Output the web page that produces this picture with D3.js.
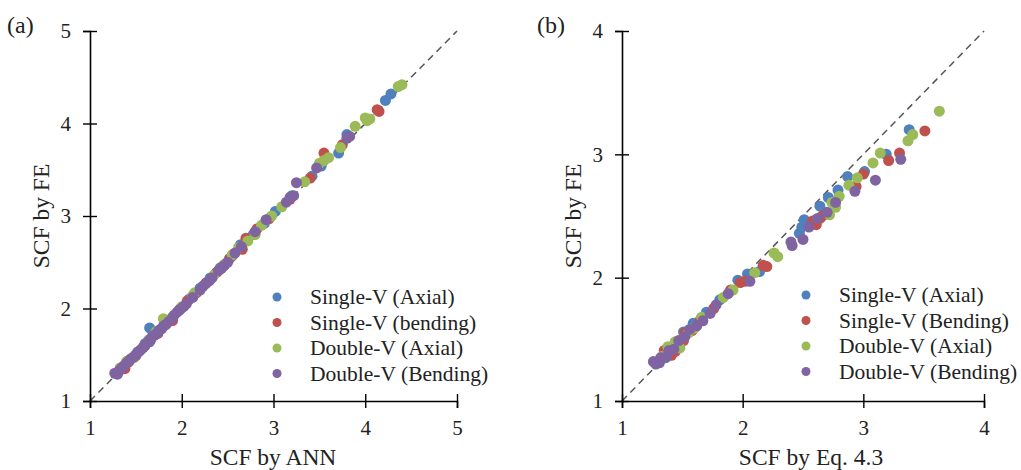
<!DOCTYPE html>
<html>
<head>
<meta charset="utf-8">
<script src="https://cdn.jsdelivr.net/npm/d3@7"></script>
<style>
  body { margin: 0; background: #fff; }
  svg { font-family: "Liberation Serif", "Times New Roman", serif; }
</style>
</head>
<body>
<svg id="chart" width="1021" height="470"></svg>
<script>
// series names and colours (Excel-like palette)
const seriesColors = ['#4f81bd', '#c0504d', '#9bbb59', '#8064a2'];
const legendA = ['Single-V (Axial)', 'Single-V (bending)', 'Double-V (Axial)', 'Double-V (Bending)'];
const legendB = ['Single-V (Axial)', 'Single-V (Bending)', 'Double-V (Axial)', 'Double-V (Bending)'];

// panel (a): [SCF by ANN, SCF by FE]
const annSingleAxial = [[1.36,1.35],[1.44,1.45],[1.52,1.53],[1.6,1.62],[1.65,1.64],[1.65,1.79],[1.68,1.7],
  [1.76,1.77],[1.86,1.87],[1.97,1.98],[2.08,2.1],[2.2,2.22],[2.31,2.33],[2.42,2.44],[2.55,2.57],[2.64,2.69],
  [2.78,2.8],[2.9,2.92],[3.02,3.05],[3.2,3.22],[3.42,3.43],[3.52,3.54],[3.71,3.68],[3.8,3.88],[4.22,4.25],[4.28,4.32]];
const annSingleBending = [[1.38,1.35],[1.42,1.42],[1.5,1.49],[1.58,1.58],[1.66,1.66],[1.74,1.73],[1.83,1.83],
  [1.9,1.87],[1.99,2.0],[2.06,2.08],[2.16,2.17],[2.27,2.28],[2.38,2.39],[2.46,2.47],[2.52,2.54],[2.66,2.64],
  [2.7,2.76],[2.82,2.86],[2.95,2.97],[3.18,3.18],[3.4,3.41],[3.55,3.68],[3.75,3.77],[4.13,4.15],[4.15,4.13]];
const annDoubleAxial = [[1.33,1.36],[1.4,1.43],[1.48,1.47],[1.56,1.56],[1.64,1.66],[1.72,1.75],[1.8,1.89],
  [1.82,1.82],[1.9,1.91],[2.0,2.02],[2.12,2.14],[2.14,2.17],[2.24,2.25],[2.35,2.36],[2.47,2.48],[2.55,2.58],
  [2.62,2.66],[2.72,2.73],[2.8,2.8],[2.87,2.9],[2.98,3.0],[3.09,3.1],[3.34,3.37],[3.5,3.57],[3.55,3.6],
  [3.6,3.63],[3.73,3.74],[3.89,3.97],[4.0,4.06],[4.02,4.03],[4.05,4.05],[4.36,4.4],[4.4,4.42]];
const annDoubleBending = [[1.27,1.3],[1.3,1.29],[1.32,1.33],[1.34,1.35],[1.36,1.37],[1.38,1.39],[1.4,1.41],
  [1.43,1.44],[1.45,1.46],[1.48,1.48],[1.5,1.5],[1.53,1.53],[1.55,1.55],[1.58,1.58],[1.6,1.6],[1.63,1.64],
  [1.66,1.67],[1.7,1.71],[1.73,1.73],[1.75,1.76],[1.78,1.78],[1.8,1.81],[1.83,1.83],[1.86,1.86],[1.9,1.9],
  [1.92,1.93],[1.95,1.96],[1.98,1.99],[2.02,2.02],[2.05,2.05],[2.12,2.12],[2.2,2.2],[2.23,2.24],[2.26,2.27],
  [2.3,2.3],[2.33,2.33],[2.4,2.41],[2.43,2.43],[2.46,2.46],[2.5,2.5],[2.58,2.6],[2.65,2.67],[2.8,2.83],
  [2.92,2.96],[3.14,3.15],[3.18,3.2],[3.22,3.22],[3.25,3.36],[3.47,3.52],[3.8,3.84],[3.83,3.86]];

// panel (b): [SCF by Eq. 4.3, SCF by FE]
const eqSingleAxial = [[1.36,1.35],[1.51,1.56],[1.59,1.63],[1.7,1.72],[1.81,1.82],[1.96,1.98],[2.04,2.03],
  [2.14,2.05],[2.47,2.36],[2.49,2.41],[2.51,2.47],[2.64,2.58],[2.71,2.65],[2.79,2.71],[2.87,2.82],[3.01,2.86],
  [3.19,3.0],[3.38,3.2]];
const eqSingleBending = [[1.35,1.41],[1.41,1.37],[1.44,1.4],[1.51,1.49],[1.52,1.55],[1.58,1.57],[1.65,1.66],
  [1.76,1.75],[1.9,1.9],[1.98,1.96],[2.02,1.97],[2.2,2.09],[2.17,2.1],[2.61,2.43],[2.64,2.48],[2.58,2.46],
  [2.66,2.5],[2.94,2.74],[3.0,2.84],[3.21,2.95],[3.3,3.01],[3.51,3.19]];
const eqDoubleAxial = [[1.33,1.36],[1.38,1.44],[1.44,1.48],[1.48,1.43],[1.55,1.55],[1.6,1.59],[1.66,1.68],
  [1.84,1.84],[1.92,1.9],[2.1,2.04],[2.26,2.2],[2.29,2.17],[2.72,2.51],[2.74,2.61],[2.77,2.57],[2.8,2.66],
  [2.88,2.75],[2.95,2.81],[3.08,2.93],[3.14,3.01],[3.37,3.11],[3.41,3.16],[3.63,3.35]];
const eqDoubleBending = [[1.26,1.32],[1.28,1.3],[1.31,1.31],[1.32,1.35],[1.37,1.36],[1.39,1.41],[1.43,1.42],
  [1.47,1.49],[1.52,1.52],[1.56,1.58],[1.62,1.61],[1.67,1.65],[1.73,1.71],[1.78,1.78],[1.88,1.87],
  [2.06,1.97],[2.4,2.29],[2.41,2.26],[2.5,2.31],[2.55,2.41],[2.62,2.48],[2.7,2.53],[2.77,2.61],[2.93,2.7],
  [3.1,2.79],[3.31,2.96]];

const ticksA = [1, 2, 3, 4, 5];
const ticksB = [1, 2, 3, 4];

const svg = d3.select('#chart');

function drawPanel(opts) {
  const x = d3.scaleLinear().domain(opts.domain).range([opts.left, opts.right]);
  const y = d3.scaleLinear().domain(opts.domain).range([opts.bottom, opts.top]);
  const g = svg.append('g');

  // 1:1 line
  g.append('line')
    .attr('x1', x(opts.domain[0])).attr('y1', y(opts.domain[0]))
    .attr('x2', x(opts.domain[1])).attr('y2', y(opts.domain[1]))
    .attr('stroke', '#555').attr('stroke-width', 1.5)
    .attr('stroke-dasharray', '7,5');

  // axes with ticks crossing the line
  const xAxis = g.append('g')
    .attr('transform', `translate(0,${opts.bottom})`)
    .call(d3.axisBottom(x).tickValues(opts.ticks).tickSize(7).tickPadding(12).tickFormat(d3.format('d')));
  xAxis.selectAll('.tick line').attr('y1', -7);
  const yAxis = g.append('g')
    .attr('transform', `translate(${opts.left},0)`)
    .call(d3.axisLeft(y).tickValues(opts.ticks).tickSize(7).tickPadding(12).tickFormat(d3.format('d')));
  yAxis.selectAll('.tick line').attr('x1', 7);
  [xAxis, yAxis].forEach(a => {
    a.select('.domain').attr('stroke', '#000').attr('stroke-width', 1.6);
    a.selectAll('.tick line').attr('stroke', '#000').attr('stroke-width', 1.4);
    a.selectAll('text').attr('font-size', 21).attr('fill', '#222')
      .attr('font-family', '"Liberation Serif", serif');
  });

  // points
  opts.series.forEach((s, i) => {
    g.append('g').selectAll('circle')
      .data(s)
      .join('circle')
      .attr('cx', d => x(d[0]))
      .attr('cy', d => y(d[1]))
      .attr('r', 5.5)
      .attr('fill', seriesColors[i]);
  });

  // axis titles
  g.append('text')
    .attr('x', opts.xTitleX).attr('y', 465)
    .attr('text-anchor', 'middle').attr('font-size', 23.5).attr('fill', '#222')
    .text(opts.xTitle);
  g.append('text')
    .attr('transform', `translate(${opts.left - 41},${(opts.top + opts.bottom) / 2}) rotate(-90)`)
    .attr('text-anchor', 'middle').attr('font-size', 23.5).attr('fill', '#222')
    .text('SCF by FE');

  // panel label
  g.append('text')
    .attr('x', opts.labelX).attr('y', 33)
    .attr('font-size', 24).attr('fill', '#222')
    .text(opts.label);

  // legend
  const lg = g.append('g');
  opts.legend.forEach((name, i) => {
    const yy = opts.legendY + i * 25.5;
    lg.append('circle').attr('cx', opts.legendX).attr('cy', yy).attr('r', 4.5).attr('fill', seriesColors[i]);
    lg.append('text').attr('x', opts.legendX + 33).attr('y', yy + 7)
      .attr('font-size', 21.5).attr('fill', '#222').text(name);
  });
}

drawPanel({
  domain: [1, 5], ticks: ticksA,
  left: 90, right: 457, top: 31, bottom: 401,
  series: [annSingleAxial, annSingleBending, annDoubleAxial, annDoubleBending],
  xTitle: 'SCF by ANN', xTitleX: 273,
  label: '(a)', labelX: 7,
  legend: legendA, legendX: 277, legendY: 297
});

drawPanel({
  domain: [1, 4], ticks: ticksB,
  left: 622, right: 984, top: 31, bottom: 401,
  series: [eqSingleAxial, eqSingleBending, eqDoubleAxial, eqDoubleBending],
  xTitle: 'SCF by Eq. 4.3', xTitleX: 811,
  label: '(b)', labelX: 537,
  legend: legendB, legendX: 806, legendY: 295
});
</script>
</body>
</html>
